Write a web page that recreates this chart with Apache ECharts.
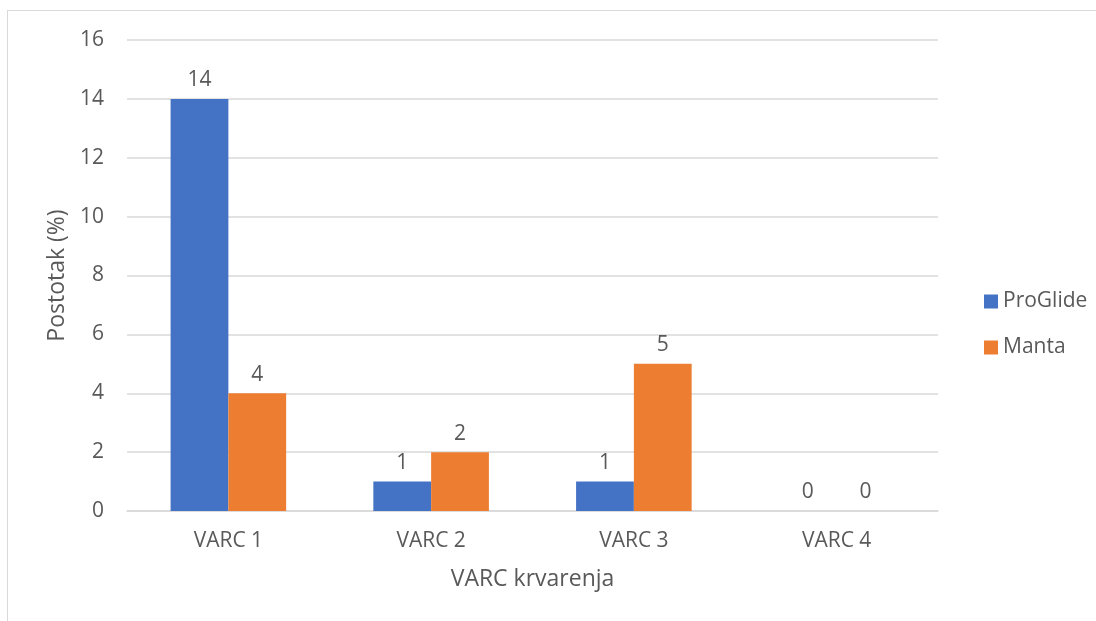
<!DOCTYPE html>
<html>
<head>
<meta charset="utf-8">
<script src="https://cdn.jsdelivr.net/npm/echarts@6/dist/echarts.min.js"></script>
<style>
  html, body { margin: 0; padding: 0; background: #fff; }
  #frame { position: absolute; left: 7px; top: 10px; width: 1200px; height: 700px; border: 1px solid #d9d9d9; box-sizing: border-box; }
  #chart { position: absolute; left: 0; top: 0; width: 1096px; height: 621px; }
</style>
</head>
<body>
<div id="frame"></div>
<div id="chart"></div>
<script>
const categories = ['VARC 1', 'VARC 2', 'VARC 3', 'VARC 4']
const proGlide = [14, 1, 1, 0]
const manta = [4, 2, 5, 0]
const yTicks = [0, 2, 4, 6, 8, 10, 12, 14, 16]

const font = '"Open Sans", "Liberation Sans", sans-serif'
const textColor = '#595959'

const chart = echarts.init(document.getElementById('chart'), null, { renderer: 'canvas' })

const barLabel = {
  show: true,
  position: 'top',
  distance: 8,
  color: textColor,
  fontFamily: font,
  fontSize: 21,
}

chart.setOption({
  backgroundColor: 'transparent',
  animation: false,
  grid: {
    left: 127,
    right: 158,
    top: 40,
    bottom: 110,
  },
  legend: {
    orient: 'vertical',
    left: 979,
    top: 286,
    itemWidth: 14,
    itemHeight: 14,
    itemGap: 25,
    icon: 'rect',
    textStyle: {
      color: textColor,
      fontFamily: font,
      fontSize: 21,
    },
    data: ['ProGlide', 'Manta'],
  },
  xAxis: {
    type: 'category',
    data: categories,
    name: 'VARC krvarenja',
    nameLocation: 'middle',
    nameGap: 57,
    nameTextStyle: {
      color: textColor,
      fontFamily: font,
      fontSize: 23,
    },
    axisLine: { show: true, lineStyle: { color: '#d9d9d9', width: 1.5 } },
    axisTick: { show: false },
    axisLabel: {
      color: textColor,
      fontFamily: font,
      fontSize: 21,
      margin: 20,
    },
  },
  yAxis: {
    type: 'value',
    min: yTicks[0],
    max: yTicks[yTicks.length - 1],
    interval: 2,
    name: 'Postotak (%)',
    nameLocation: 'middle',
    nameGap: 57,
    nameTextStyle: {
      color: textColor,
      fontFamily: font,
      fontSize: 23,
    },
    axisLine: { show: false },
    axisTick: { show: false },
    axisLabel: {
      color: textColor,
      fontFamily: font,
      fontSize: 21,
      margin: 23,
    },
    splitLine: {
      lineStyle: { color: '#d9d9d9', width: 1.5 },
    },
  },
  series: [
    {
      name: 'ProGlide',
      type: 'bar',
      data: proGlide,
      barGap: '0%',
      barCategoryGap: '43%',
      itemStyle: { color: '#4472C4' },
      label: barLabel,
    },
    {
      name: 'Manta',
      type: 'bar',
      data: manta,
      itemStyle: { color: '#ED7D31' },
      label: barLabel,
    },
  ],
})
</script>
</body>
</html>
